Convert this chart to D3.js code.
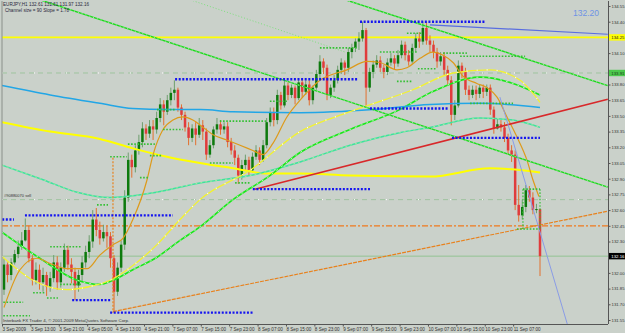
<!DOCTYPE html>
<html><head><meta charset="utf-8">
<script src="https://cdn.jsdelivr.net/npm/d3@7"></script>
<style>
html,body{margin:0;padding:0;background:#cad1ca;}
svg{display:block;font-family:"Liberation Sans","DejaVu Sans",sans-serif;}
</style></head><body>
<svg id="c" width="625" height="333"></svg>
<script>
// ---------- DATA ----------
const headerText = "EURJPY,H1  132.61 132.61 131.97 132.16";
const channelText = "Channel size = 90 Slope = 1.78";
const bigPriceText = "132.20";
const sellText = "#90880070 sell";
const copyrightText = "Interbank FX Trader 4, \u00a9 2001-2009 MetaQuotes Software Corp.";

const timeLabels = ["3 Sep 2009","3 Sep 13:00","3 Sep 21:00","4 Sep 05:00","4 Sep 13:00","4 Sep 21:00",
  "7 Sep 07:00","7 Sep 15:00","7 Sep 23:00","8 Sep 07:00","8 Sep 15:00","8 Sep 23:00","9 Sep 07:00",
  "9 Sep 15:00","9 Sep 23:00","10 Sep 07:00","10 Sep 15:00","10 Sep 23:00","11 Sep 07:00"];
const timeLabelBars = [0,8,16,24,32,40,48,56,64,72,80,88,96,104,112,120,128,136,144];

const priceTicks = [131.55,131.70,131.85,132.00,132.30,132.45,132.60,132.75,132.90,133.05,
  133.20,133.35,133.50,133.65,133.80,134.10,134.40,134.55];

const firstOpen = 131.84;
const closes = [132.08,131.98,132.10,132.18,132.25,132.31,132.41,132.14,131.93,132.03,
131.91,131.98,131.87,131.95,132.10,131.91,132.05,132.22,132.08,132.01,
131.88,131.98,132.10,132.20,132.30,132.51,132.41,132.33,132.39,132.35,
132.14,131.82,132.05,132.27,132.72,133.08,133.01,133.17,133.25,133.38,
133.33,133.40,133.37,133.48,133.61,133.54,133.65,133.72,133.75,133.58,
133.51,133.39,133.29,133.38,133.32,133.41,133.35,133.13,133.22,133.37,
133.42,133.37,133.40,133.25,133.17,133.10,132.93,133.03,133.08,132.98,
133.11,133.17,133.08,133.22,133.44,133.53,133.46,133.70,133.60,133.79,
133.70,133.77,133.67,133.82,133.73,133.80,133.65,133.77,133.90,134.02,
133.96,133.70,133.77,133.84,133.94,134.01,133.96,134.11,134.15,134.21,
134.24,134.32,133.77,133.92,133.99,134.03,133.96,133.92,134.01,134.05,
134.00,134.08,134.18,134.08,134.02,134.15,134.24,134.21,134.34,134.22,
134.18,134.11,134.02,134.07,133.94,133.84,133.51,133.60,133.98,133.92,
133.75,133.70,133.75,133.71,133.77,133.73,133.77,133.56,133.38,133.42,
133.39,133.29,133.17,133.13,132.65,132.55,132.63,132.79,132.72,132.60,
132.61,132.16];
const highs = [132.14,132.10,132.14,132.22,132.31,132.39,132.52,132.45,132.17,132.10,
132.08,132.05,132.01,132.01,132.17,132.16,132.10,132.28,132.26,132.14,
132.05,132.03,132.16,132.26,132.36,132.60,132.62,132.49,132.46,132.45,
132.39,132.17,132.10,132.31,132.79,133.15,133.13,133.22,133.32,133.44,
133.42,133.46,133.46,133.54,133.67,133.65,133.70,133.77,133.84,133.77,
133.61,133.54,133.44,133.42,133.44,133.48,133.46,133.38,133.27,133.40,
133.48,133.46,133.44,133.44,133.29,133.22,133.13,133.08,133.13,133.11,
133.15,133.22,133.20,133.27,133.48,133.58,133.58,133.75,133.73,133.84,
133.82,133.80,133.79,133.86,133.86,133.84,133.84,133.79,133.94,134.08,
134.05,133.99,133.80,133.89,133.98,134.05,134.03,134.15,134.19,134.24,
134.30,134.40,134.34,133.96,134.03,134.08,134.07,133.99,134.05,134.10,
134.08,134.13,134.22,134.21,134.13,134.19,134.29,134.30,134.40,134.40,
134.27,134.22,134.15,134.11,134.11,133.98,133.88,133.65,134.03,134.01,
133.96,133.79,133.79,133.79,133.80,133.80,133.80,133.80,133.59,133.48,
133.46,133.44,133.33,133.22,133.17,132.84,132.70,132.84,132.83,132.77,
132.66,132.61];
const lows = [131.79,131.91,131.93,132.08,132.14,132.22,132.30,132.10,131.88,131.89,
131.84,131.82,131.78,131.82,131.91,131.84,131.86,132.01,132.03,131.90,
131.74,131.82,131.91,132.05,132.14,132.24,132.35,132.27,132.30,132.24,
132.05,131.63,131.78,132.01,132.22,132.68,132.91,132.96,133.13,133.20,
133.27,133.29,133.27,133.33,133.44,133.41,133.51,133.60,133.65,133.54,
133.46,133.35,133.22,133.25,133.22,133.29,133.27,133.08,133.10,133.19,
133.33,133.32,133.33,133.20,133.13,133.03,132.85,132.89,132.98,132.93,
132.96,133.08,133.03,133.06,133.19,133.40,133.40,133.42,133.56,133.58,
133.65,133.67,133.61,133.65,133.67,133.70,133.60,133.61,133.75,133.86,
133.90,133.65,133.67,133.73,133.81,133.90,133.89,133.92,134.05,134.11,
134.13,134.21,133.59,133.73,133.86,133.96,133.92,133.86,133.89,133.98,
133.94,133.97,134.05,134.03,133.98,134.00,134.11,134.15,134.18,134.18,
134.11,134.05,133.96,133.98,133.89,133.79,133.41,133.46,133.58,133.86,
133.70,133.65,133.67,133.65,133.67,133.67,133.69,133.51,133.33,133.37,
133.35,133.25,133.13,133.06,132.60,132.49,132.51,132.58,132.68,132.56,
132.57,131.97];

// moving-average style curves: [bar, price]
const orangeMA = [[0,131.67],[4.5,132.03],[9.3,132.14],[13,132.09],[17.7,132.04],[23.4,132.04],[27,132.17],
 [30.7,132.27],[33.5,132.33],[36.3,132.51],[40.3,132.89],[42,133.13],[44.8,133.37],[47.6,133.46],[50.4,133.49],
 [53.2,133.46],[56.1,133.39],[58.9,133.32],[62.8,133.27],[66.5,133.22],[70.1,133.17],[73,133.13],[75.8,133.24],
 [79.7,133.49],[83.4,133.65],[89,133.84],[96.6,133.94],[102.3,134.02],[105.9,134.01],[110.7,133.94],[113.5,133.96],
 [117.2,134.05],[120.8,134.11],[123.7,134.08],[126.5,134.01],[129.3,133.88],[133.2,133.81],[136.1,133.77],
 [138.9,133.68],[141.7,133.49],[144.5,133.30],[147.3,133.08],[149,132.89],[150.7,132.73]];
const blueMA = [[-0.6,133.79],[13,133.70],[27,133.62],[36.3,133.57],[45.9,133.56],[55.2,133.56],[64.5,133.54],
 [83.4,133.53],[103.9,133.56],[120,133.61],[134.1,133.62],[151,133.58]];
const yellowSlowMA = [[-0.6,133.44],[13,133.35],[27,133.28],[36.3,133.19],[45.9,133.11],[55.2,133.05],[64.5,133.00],
 [74.1,132.95],[83.4,132.95],[97.5,132.93],[120,132.92],[136.9,133.00],[151,132.96]];
const yellowMA = [[-0.6,132.16],[8.2,131.93],[17.7,131.84],[24.2,131.87],[29.9,131.93],[35.5,132.05],[43.1,132.27],
 [49.6,132.51],[55.2,132.70],[69.3,132.98],[83.4,133.35],[97.5,133.54],[115.2,133.75],[126.5,133.91],
 [136.9,133.94],[145.4,133.84],[151,133.63]];
const limeMA = [[-0.6,132.39],[10.1,132.14],[20.6,131.93],[27,131.89],[30.7,131.93],[36.3,132.03],[43.1,132.15],
 [49.6,132.31],[55.2,132.44],[64.5,132.70],[74.9,132.93],[83.4,133.15],[97.5,133.37],[111.5,133.56],
 [120,133.72],[134.1,133.87],[143.4,133.81],[151,133.70]];
const springMA = [[-0.6,133.03],[11,132.89],[20.6,132.77],[29.9,132.72],[41.1,132.76],[55.2,132.86],[69.3,132.93],
 [83.4,133.06],[97.5,133.22],[111.5,133.34],[120,133.39],[134.1,133.48],[143.4,133.46],[151,133.39]];

// horizontal objects
const yellowLevel = 134.25;
const dashLevels = [133.91, 132.70];
const orangeLevel = 132.45;
const bidLevel = 132.16;

// trend lines: [bar1, price1, bar2, price2]
const redTrend = [70.7,132.80,170.1,133.66];
const orangeTrend = [30.7,131.63,170.1,132.59];
const orangeVertical = [30.7,133.10,131.62];
const greenTrends = [[10.1,134.61,170.1,132.82],[96.1,134.61,170.1,133.79]];
const faintGreenTrend = [52.4,134.61,96.1,134.11];
const slateTrend = [120,134.37,170.1,134.28];
const lavenderTrend = [139.7,133.68,159.4,131.43];

// dotted support/resistance levels: [fromBar, toBar, price]
const blueLevels = [[-0.5,2.8,132.51],[5.9,47.6,132.55],[19.2,29.9,131.74],[29.9,70.1,131.62],
 [48.2,99.7,133.85],[70.1,103.1,132.80],[103.1,125.1,133.57],[100.3,135.5,134.40],[126.2,151,133.29]];
const greenLevels = [[-1.1,5.4,131.72],[-1.1,7.3,131.59],[8.2,11.5,131.81],[12.1,15.2,131.76],[13,22,132.25],
 [15.8,22,131.89],[26.2,29.3,132.65],[29.9,34.6,133.11],[34.9,42.5,133.23],[38.3,40.6,132.91],[41.1,44.5,133.12],
 [43.1,48.2,133.56],[44.8,50.4,133.37],[60.8,74.1,133.45],[58,64.5,133.05],[65.1,69.3,132.86],[74.9,79.7,133.64],
 [89,99.4,134.15],[105.9,116.3,134.11],[113.5,118,134.29],[110.7,115.2,133.83],[116.6,122,133.95],
 [123.7,130.4,134.10],[128.5,146.8,134.07],[131.3,143.4,133.62],[146.2,151,132.80],[144.5,151,132.42]];
const greenVerticals = [[146.2,132.80,132.42],[151,132.80,132.42]];

// ---------- CHART ----------
const svg = d3.select("#c");
const W = 625, H = 333;
const plot = {l:2, t:1, r:608, b:324};
const x = d3.scaleLinear().domain([0,151]).range([4,540]);
const y = d3.scaleLinear().domain([131.55,134.55]).range([320,6]);

svg.append("rect").attr("width",W).attr("height",H).attr("fill","#cad1ca");
svg.append("clipPath").attr("id","clip").append("rect")
  .attr("x",plot.l).attr("y",plot.t).attr("width",plot.r-plot.l).attr("height",plot.b-plot.t);
const g = svg.append("g").attr("clip-path","url(#clip)");

// horizontal objects
const hline = (p, color, w, dash) => g.append("line").attr("x1",plot.l).attr("x2",plot.r)
  .attr("y1",y(p)).attr("y2",y(p)).attr("stroke",color).attr("stroke-width",w)
  .attr("stroke-dasharray",dash||null);
dashLevels.forEach(p => { hline(p,"#9fc49f",1,"5,4"); hline(p,"#ffffff",1,"1,31"); });
hline(bidLevel,"#93c393",1);
hline(orangeLevel,"#f07a1e",1.2,"6,2,2,2");
hline(yellowLevel,"#ffff00",1.6);

// candles
const opens = closes.map((c,i) => i===0 ? firstOpen : closes[i-1]);
const bars = g.append("g");
closes.forEach((c,i) => {
  const up = c >= opens[i];
  bars.append("line").attr("x1",x(i)).attr("x2",x(i)).attr("y1",y(highs[i])).attr("y2",y(lows[i]))
    .attr("stroke", up ? "#6e9e6e" : "#e2702e").attr("stroke-width",1);
  const top = y(Math.max(c,opens[i])), bot = y(Math.min(c,opens[i]));
  bars.append("rect").attr("x",x(i)-1.25).attr("width",2.5).attr("y",top).attr("height",Math.max(1,bot-top))
    .attr("fill", up ? "#0d7a0d" : "#e03c3c");
});

// curves
const curve = d3.line().x(d=>x(d[0])).y(d=>y(d[1])).curve(d3.curveMonotoneX);
const drawCurve = (data,color,w,dash) => g.append("path").attr("d",curve(data)).attr("fill","none")
  .attr("stroke",color).attr("stroke-width",w).attr("stroke-dasharray",dash||null);
drawCurve(yellowSlowMA,"#ffff00",2);
drawCurve(springMA,"#3fe0a0",1.5);
drawCurve(springMA,"#9df09d",1,"2,3");
drawCurve(limeMA,"#19e619",1.6);
drawCurve(limeMA,"#b0ffb0",1,"2,4");
drawCurve(blueMA,"#22a6e6",1.5);
drawCurve(yellowMA,"#f2f230",1.3);
drawCurve(yellowMA,"#ffffff",1.2,"1,9");
drawCurve(orangeMA,"#dd9a1a",1.2);

// trend lines
const seg = (t,color,w,dash) => g.append("line").attr("x1",x(t[0])).attr("y1",y(t[1]))
  .attr("x2",x(t[2])).attr("y2",y(t[3])).attr("stroke",color).attr("stroke-width",w)
  .attr("stroke-dasharray",dash||null);
greenTrends.forEach(t => { seg(t,"#1ed81e",1.4); seg(t,"#a6f5a6",1,"1,3"); });
seg(faintGreenTrend,"#7ee07e",1,"1,2");
seg(redTrend,"#d8282a",1.5);
seg(orangeTrend,"#e8821e",1.2,"4,1");
seg(slateTrend,"#5a6ee0",1.2);
seg(lavenderTrend,"#8a9ce6",1);
g.append("line").attr("x1",x(orangeVertical[0])).attr("x2",x(orangeVertical[0]))
  .attr("y1",y(orangeVertical[1])).attr("y2",y(orangeVertical[2]))
  .attr("stroke","#e8821e").attr("stroke-width",1.2).attr("stroke-dasharray","2,1.5");

// dotted levels
greenLevels.forEach(l => g.append("line").attr("x1",x(l[0])).attr("x2",x(l[1]))
  .attr("y1",y(l[2])).attr("y2",y(l[2])).attr("stroke","#35c035").attr("stroke-width",1.6)
  .attr("stroke-dasharray","1.6,1.6"));
greenVerticals.forEach(l => g.append("line").attr("x1",x(l[0])).attr("x2",x(l[0]))
  .attr("y1",y(l[1])).attr("y2",y(l[2])).attr("stroke","#35c035").attr("stroke-width",1.2)
  .attr("stroke-dasharray","1.6,1.6"));
blueLevels.forEach(l => g.append("line").attr("x1",x(l[0])).attr("x2",x(l[1]))
  .attr("y1",y(l[2])).attr("y2",y(l[2])).attr("stroke","#1414f0").attr("stroke-width",2.4)
  .attr("stroke-dasharray","2,1.6"));

// frame
svg.append("line").attr("x1",plot.l).attr("x2",plot.l).attr("y1",plot.t).attr("y2",plot.b).attr("stroke","#8a908a");
svg.append("line").attr("x1",plot.l).attr("x2",plot.r).attr("y1",plot.b+0.5).attr("y2",plot.b+0.5).attr("stroke","#555");

// right axis
const ra = svg.append("g").attr("transform",`translate(${plot.r+0.5},0)`)
  .call(d3.axisRight(y).tickValues(priceTicks).tickFormat(d3.format(".2f")).tickSize(2).tickSizeOuter(0));
ra.select(".domain").attr("d",`M0,${plot.t}V${plot.b}`).attr("stroke","#555");
ra.selectAll(".tick line").attr("stroke","#555");
ra.selectAll(".tick text").attr("x",3).attr("font-size",4.3).attr("fill","#333")
  .attr("font-family","Liberation Sans, sans-serif");

const boxLabel = (p, bg, fg) => {
  const gg = svg.append("g").attr("transform",`translate(${plot.r+1},${y(p)})`);
  gg.append("rect").attr("x",0).attr("y",-3.2).attr("width",16).attr("height",6.4).attr("fill",bg);
  gg.append("text").attr("x",2.3).attr("y",1.6).attr("font-size",4.3).attr("fill",fg).text(d3.format(".2f")(p));
};
boxLabel(yellowLevel,"#ffff00","#222");
boxLabel(dashLevels[0],"#4cc84c","#1a3a1a");
boxLabel(bidLevel,"#000","#fff");

// bottom time axis
const ba = svg.append("g").attr("transform",`translate(0,${plot.b+0.5})`)
  .call(d3.axisBottom(x).tickValues(timeLabelBars).tickFormat((d,i)=>timeLabels[i]).tickSize(2).tickSizeOuter(0));
ba.select(".domain").remove();
ba.selectAll(".tick line").attr("stroke","#555").attr("transform","translate(-2,0)");
ba.selectAll(".tick text").attr("text-anchor","start").attr("x",-2).attr("y",3).attr("dy","0.71em")
  .attr("font-size",4.6).attr("fill","#333").attr("font-family","Liberation Sans, sans-serif");

// texts
svg.append("text").attr("x",3).attr("y",6).attr("font-size",4.6).attr("fill","#2a2a40").text(headerText);
svg.append("text").attr("x",5).attr("y",11.5).attr("font-size",4.6).attr("fill","#2a2a40").text(channelText);
svg.append("text").attr("x",573).attr("y",15.5).attr("font-size",8.5).attr("fill","#6e93e6").text(bigPriceText);
svg.append("text").attr("x",4).attr("y",196.5).attr("font-size",4).attr("fill","#333").text(sellText);
svg.append("text").attr("x",3).attr("y",322).attr("font-size",4.4).attr("fill","#333").text(copyrightText);
</script>
</body></html>
